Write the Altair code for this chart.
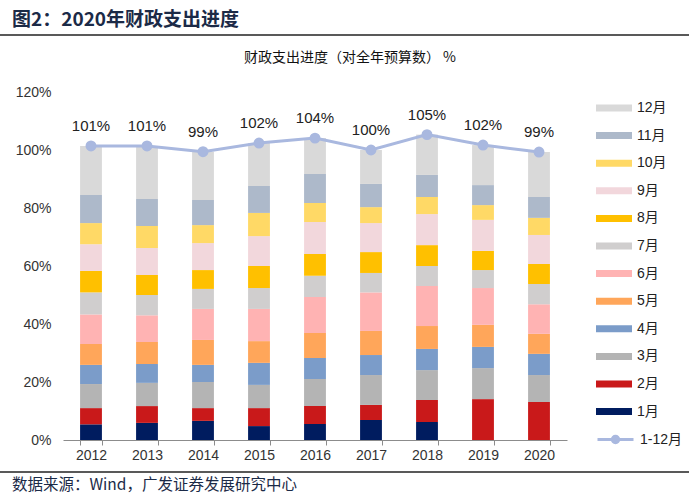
import altair as alt
import pandas as pd

years = ["2012", "2013", "2014", "2015", "2016", "2017", "2018", "2019", "2020"]
months = ["1月", "2月", "3月", "4月", "5月", "6月", "7月", "8月", "9月", "10月", "11月", "12月"]

m1 = [5.4, 5.9, 6.6, 4.8, 5.5, 6.9, 6.2, 0.0, 0.0]
m2 = [5.6, 5.8, 4.4, 6.2, 6.2, 5.2, 7.6, 14.1, 13.1]
m3 = [8.3, 8.0, 9.0, 8.0, 9.3, 10.3, 10.3, 10.7, 9.3]
m4 = [6.6, 6.5, 5.9, 7.6, 7.3, 6.9, 7.3, 7.3, 7.3]
m5 = [7.2, 7.6, 8.6, 7.5, 8.6, 8.3, 7.9, 7.6, 6.9]
m6 = [10.2, 9.2, 10.7, 11.1, 12.4, 13.3, 13.8, 12.7, 10.2]
m7 = [7.6, 7.0, 6.9, 7.2, 7.3, 6.7, 6.9, 6.2, 7.0]
m8 = [7.4, 6.9, 6.5, 7.6, 7.5, 7.2, 7.2, 6.6, 6.9]
m9 = [9.2, 9.3, 9.3, 10.3, 11.1, 10.0, 10.7, 10.7, 10.0]
m10 = [7.3, 7.6, 6.2, 8.0, 6.5, 5.5, 5.9, 5.1, 5.9]
m11 = [9.7, 9.3, 8.7, 9.3, 10.0, 8.0, 7.6, 6.9, 7.2]
m12 = [16.9, 18.3, 16.6, 14.8, 12.4, 11.7, 13.9, 13.8, 15.5]

total = [101.4, 101.4, 99.4, 102.4, 104.1, 100.0, 105.3, 101.7, 99.3]
line_name = "1-12月"

month_colors = ["#001C5F", "#C9191A", "#B4B4B4", "#7B9CC9", "#FFA65A", "#FFB3B3",
                "#D0CECE", "#FFC000", "#F2D7DC", "#FFD966", "#ADB9CA", "#D9D9D9"]
line_color = "#A9B8DF"

title_text = "图2：2020年财政支出进度"
subtitle_text = "财政支出进度（对全年预算数） %"
source_text = "数据来源：Wind，广发证券发展研究中心"

series = [m1, m2, m3, m4, m5, m6, m7, m8, m9, m10, m11, m12]
rows = []
for mi, (mname, vals) in enumerate(zip(months, series)):
    for y, v in zip(years, vals):
        rows.append({"year": y, "month": mname, "mi": mi + 1, "value": v})
bars_df = pd.DataFrame(rows)
line_df = pd.DataFrame({"year": years, "total": total, "series": [line_name] * len(years)})

LAT = "Liberation Sans, Arial, Noto Sans CJK SC"
CJK = "Noto Sans CJK SC"

xenc = alt.X("year:N", sort=years, title=None,
             scale=alt.Scale(paddingInner=0.61, paddingOuter=0.305),
             axis=alt.Axis(labelAngle=0, labelFont=LAT, labelFontSize=14, labelColor="#333333",
                           domainColor="#8C8C8C", tickColor="#8C8C8C", tickSize=5,
                           tickBand="extent", labelPadding=3, grid=False))
yscale = alt.Scale(domain=[0, 120], nice=False)

bars = alt.Chart(bars_df).mark_bar().encode(
    x=xenc,
    y=alt.Y("value:Q", stack="zero", scale=yscale, title=None,
            axis=alt.Axis(values=[0, 20, 40, 60, 80, 100, 120], labelExpr="datum.value + '%'",
                          domain=False, ticks=False, grid=False, labelFont=LAT,
                          labelFontSize=14, labelColor="#333333", labelPadding=12)),
    color=alt.Color("month:N",
                    scale=alt.Scale(domain=months[::-1], range=month_colors[::-1]),
                    legend=alt.Legend(title=None, orient="none", legendX=533, legendY=-2,
                                      symbolType="M-1,-0.194L1,-0.194L1,0.194L-1,0.194Z",
                                      symbolSize=1296, symbolStrokeWidth=0, symbolOpacity=1,
                                      labelFont=LAT, labelFontSize=14, labelColor="#222222",
                                      labelOffset=5, rowPadding=2.6, padding=0)),
    order=alt.Order("mi:Q", sort="ascending"),
)

line = alt.Chart(line_df).mark_line(strokeWidth=3, point=alt.OverlayMarkDef(filled=True, size=80, color=line_color)).encode(
    x=alt.X("year:N", sort=years),
    y=alt.Y("total:Q", scale=yscale),
    stroke=alt.Stroke("series:N", scale=alt.Scale(range=[line_color]),
                      legend=alt.Legend(title=None, orient="none", legendX=533, legendY=328,
                                        symbolType="M-1,0L1,0M-0.18,0A0.18,0.18,0,1,1,0.18,0A0.18,0.18,0,1,1,-0.18,0Z",
                                        symbolSize=1296, symbolStrokeWidth=3, symbolFillColor=line_color,
                                        labelFont=LAT, labelFontSize=14, labelColor="#222222",
                                        labelOffset=5, padding=0)),
)

labels = alt.Chart(line_df).transform_calculate(
    lab="format(datum.total, '.0f') + '%'"
).mark_text(dy=-20, font=LAT, fontSize=15, color="#222222").encode(
    x=alt.X("year:N", sort=years),
    y=alt.Y("total:Q", scale=yscale),
    text="lab:N",
)

def deco_text(txt, x, y, size, weight="normal", color="#222222", align="left", font=CJK):
    return alt.Chart(pd.DataFrame({"t": [txt]})).mark_text(
        align=align, baseline="middle", fontSize=size, fontWeight=weight, color=color, font=font
    ).encode(text="t:N", x=alt.value(x), y=alt.value(y))

def deco_rule(y, color="#222222", width=1.5):
    return alt.Chart(pd.DataFrame({"a": [0]})).mark_rule(color=color, strokeWidth=width).encode(
        x=alt.value(-63), x2=alt.value(626), y=alt.value(y))

header = deco_text(title_text, -51, -72, 19, weight="bold", color="#1B2A47")
subtitle = deco_text(subtitle_text, 287, -34, 14, align="center", color="#111111")
source = deco_text(source_text, -51, 393, 15.5, color="#1B2A47")
top_rule = deco_rule(-57)
bottom_rule = deco_rule(380)

chart = alt.layer(bars, line, labels, header, subtitle, source, top_rule, bottom_rule).resolve_scale(
    color="independent"
).properties(
    width=504, height=348,
    padding={"left": 63, "top": 92, "right": 122, "bottom": 63},
    autosize=alt.AutoSizeParams(type="none"),
    background="white",
).configure_view(stroke=None)

chart.save("out.html", embed_options={"renderer": "svg", "actions": False})
